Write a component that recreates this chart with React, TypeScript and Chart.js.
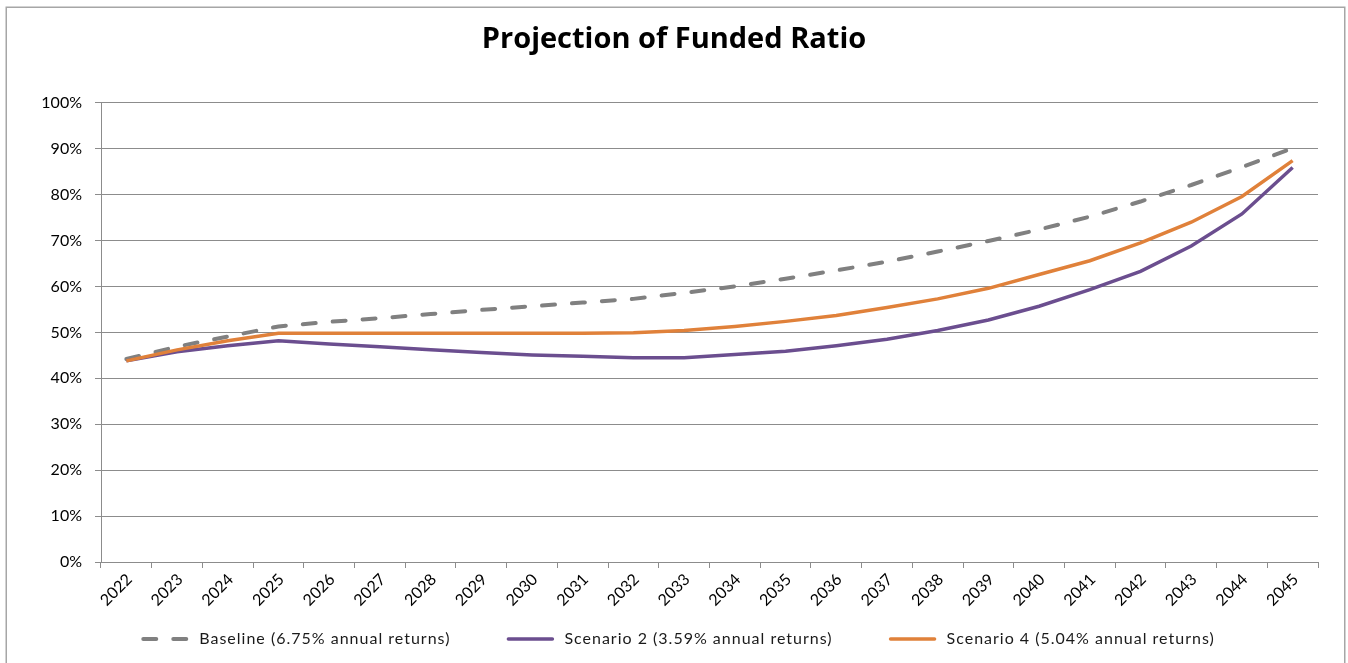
import { useEffect, useRef } from "react";
import { Chart, registerables } from "chart.js";

Chart.register(...registerables);

const FONT = "Lato, 'Open Sans', sans-serif";
const TITLE_FONT = "'Open Sans', Lato, sans-serif";

const years = [
  "2022", "2023", "2024", "2025", "2026", "2027", "2028", "2029",
  "2030", "2031", "2032", "2033", "2034", "2035", "2036", "2037",
  "2038", "2039", "2040", "2041", "2042", "2043", "2044", "2045",
];

// Funded ratio, percent
const baseline = [
  44.2, 46.9, 49.1, 51.3, 52.3, 53.1, 54.0, 54.9,
  55.7, 56.5, 57.3, 58.6, 60.0, 61.7, 63.5, 65.4,
  67.6, 69.9, 72.4, 75.2, 78.5, 82.1, 86.0, 90.1,
];
const scenario2 = [
  43.8, 45.8, 47.1, 48.2, 47.5, 46.9, 46.2, 45.6,
  45.1, 44.8, 44.5, 44.5, 45.2, 45.9, 47.1, 48.5,
  50.4, 52.7, 55.7, 59.3, 63.3, 68.8, 75.8, 85.9,
];
const scenario4 = [
  43.8, 46.2, 48.2, 49.8, 49.8, 49.8, 49.8, 49.8,
  49.8, 49.8, 49.9, 50.4, 51.3, 52.4, 53.7, 55.4,
  57.3, 59.6, 62.6, 65.6, 69.5, 74.0, 79.6, 87.4,
];

const seriesLabels = [
  "Baseline (6.75% annual returns)",
  "Scenario 2 (3.59% annual returns)",
  "Scenario 4 (5.04% annual returns)",
];

const GRID = "#8C8C8C";

// White page with the thin grey frame around the chart
const framePlugin = {
  id: "frame",
  beforeDraw(chart: any) {
    const { ctx, width, height } = chart;
    ctx.save();
    ctx.fillStyle = "#ffffff";
    ctx.fillRect(0, 0, width, height);
    ctx.strokeStyle = "#A6A6A6";
    ctx.lineWidth = 1.5;
    ctx.strokeRect(6.25, 7.25, width - 9.5, height + 20);
    ctx.restore();
  },
};

// Single-row legend under the axis, line samples followed by labels
const legendPlugin = {
  id: "bottomLegend",
  afterDraw(chart: any) {
    const { ctx } = chart;
    const sets = chart.data.datasets;
    ctx.save();
    ctx.font = `16px ${FONT}`;
    ctx.letterSpacing = "1px";
    const sample = 48;
    const textGap = 10;
    const itemGap = 56;
    const widths = sets.map(
      (d: any) => sample + textGap + ctx.measureText(d.label).width
    );
    const total =
      widths.reduce((a: number, b: number) => a + b, 0) +
      itemGap * (sets.length - 1);
    let x = chart.width / 2 - total / 2 + 4;
    const y = 639;
    sets.forEach((d: any, i: number) => {
      ctx.strokeStyle = d.borderColor;
      ctx.lineWidth = d.borderWidth;
      ctx.lineCap = "round";
      ctx.setLineDash(d.borderDash || []);
      ctx.beginPath();
      ctx.moveTo(x + 2, y);
      ctx.lineTo(x + sample - 2, y);
      ctx.stroke();
      ctx.setLineDash([]);
      ctx.fillStyle = "#1a1a1a";
      ctx.textBaseline = "middle";
      ctx.textAlign = "left";
      ctx.fillText(d.label, x + sample + textGap, y);
      x += widths[i] + itemGap;
    });
    ctx.restore();
  },
};

export default function App() {
  const canvasRef = useRef<HTMLCanvasElement | null>(null);

  useEffect(() => {
    document.body.style.margin = "0";
    const canvas = canvasRef.current;
    if (!canvas) return;

    const chart = new Chart(canvas, {
      type: "line",
      data: {
        labels: years,
        datasets: [
          {
            label: seriesLabels[0],
            data: baseline,
            borderColor: "#808080",
            backgroundColor: "#808080",
            borderWidth: 4,
            borderDash: [13, 17],
            borderCapStyle: "round",
            pointRadius: 0,
            tension: 0,
            order: 3,
          },
          {
            label: seriesLabels[1],
            data: scenario2,
            borderColor: "#6B4E8F",
            backgroundColor: "#6B4E8F",
            borderWidth: 3.5,
            pointRadius: 0,
            tension: 0,
            order: 2,
          },
          {
            label: seriesLabels[2],
            data: scenario4,
            borderColor: "#E0813A",
            backgroundColor: "#E0813A",
            borderWidth: 3.5,
            pointRadius: 0,
            tension: 0,
            order: 1,
          },
        ],
      },
      options: {
        responsive: false,
        animation: false,
        layout: { padding: { left: 0, right: 0, top: 0, bottom: 43 } },
        plugins: {
          legend: { display: false },
          tooltip: { enabled: false },
          title: {
            display: true,
            text: "Projection of Funded Ratio",
            color: "#000000",
            font: { family: TITLE_FONT, size: 29, weight: "bold", lineHeight: 1.2 },
            padding: { top: 22, bottom: 46 },
          },
        },
        scales: {
          x: {
            type: "category",
            offset: true,
            grid: {
              display: true,
              offset: true,
              drawOnChartArea: false,
              drawTicks: true,
              tickLength: 6,
              color: GRID,
            },
            border: { display: true, color: GRID, width: 1 },
            ticks: {
              autoSkip: false,
              minRotation: 45,
              maxRotation: 45,
              labelOffset: 3,
              padding: 2,
              color: "#000000",
              font: { family: FONT, size: 16 },
            },
            afterFit(scale: any) {
              scale.height = 58;
            },
          },
          y: {
            min: 0,
            max: 100,
            grid: {
              color: GRID,
              drawTicks: true,
              tickLength: 6,
            },
            border: { display: true, color: GRID, width: 1 },
            ticks: {
              stepSize: 10,
              padding: 13,
              color: "#000000",
              font: { family: FONT, size: 16 },
              callback: (v: any) => `${v}%`,
            },
            afterFit(scale: any) {
              scale.width = 101;
            },
          },
          yRight: {
            position: "right",
            display: true,
            grid: { display: false },
            border: { display: false },
            ticks: { display: false },
            afterFit(scale: any) {
              scale.width = 30;
            },
          },
        },
      } as any,
      plugins: [framePlugin, legendPlugin],
    });

    return () => chart.destroy();
  }, []);

  return (
    <div style={{ width: 1348, height: 663 }}>
      <canvas ref={canvasRef} width={1348} height={663} style={{ display: "block" }} />
    </div>
  );
}
